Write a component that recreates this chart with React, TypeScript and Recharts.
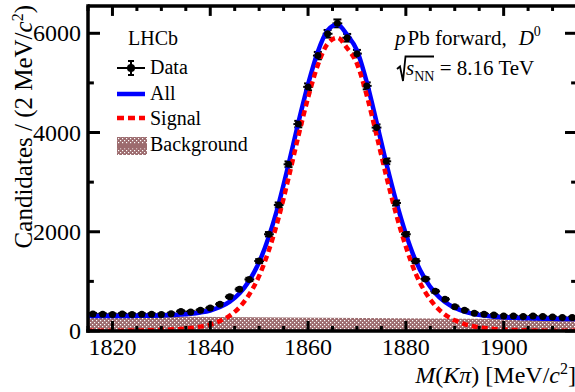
import React from "react";
import { ComposedChart, Line, Area, Scatter, XAxis, YAxis, ErrorBar, ReferenceLine } from "recharts";

// bin centres (2 MeV bins)
const massBins = [
    1816, 1818, 1820, 1822, 1824, 1826, 1828, 1830, 1832, 1834,
    1836, 1838, 1840, 1842, 1844, 1846, 1848, 1850, 1852, 1854,
    1856, 1858, 1860, 1862, 1864, 1866, 1868, 1870, 1872, 1874,
    1876, 1878, 1880, 1882, 1884, 1886, 1888, 1890, 1892, 1894,
    1896, 1898, 1900, 1902, 1904, 1906, 1908, 1910, 1912, 1914
];
const candidates = [
    345, 340, 335, 345, 335, 340, 340, 335, 350, 395,
    385, 420, 465, 540, 690, 840, 1040, 1410, 1950, 2540,
    3360, 4170, 4920, 5550, 5990, 6200, 5910, 5590, 4940, 4100,
    3420, 2580, 1950, 1410, 1050, 800, 640, 490, 420, 360,
    340, 320, 300, 300, 290, 300, 290, 280, 270, 270
];
const candidateErrors = [
    19, 18, 18, 19, 18, 18, 18, 18, 19, 20,
    20, 20, 22, 23, 26, 29, 32, 38, 44, 50,
    58, 65, 70, 74, 77, 79, 77, 75, 70, 64,
    58, 51, 44, 38, 32, 28, 25, 22, 20, 19,
    18, 18, 17, 17, 17, 17, 17, 17, 16, 16
];

// fit curves
const fitMass = [
    1815, 1816, 1818, 1820, 1822, 1824, 1826, 1828, 1830, 1832, 1834,
    1836, 1838, 1840, 1842, 1844, 1846, 1848, 1850, 1852, 1854,
    1856, 1858, 1860, 1862, 1864, 1866, 1868, 1870, 1872, 1874,
    1876, 1878, 1880, 1882, 1884, 1886, 1888, 1890, 1892, 1894,
    1896, 1898, 1900, 1902, 1904, 1906, 1908, 1910, 1912, 1914, 1915
];
const fitAll = [
    303, 303, 303, 302, 303, 304, 306, 308, 313, 320, 330,
    347, 374, 414, 483, 592, 761, 1019, 1388, 1907, 2565,
    3354, 4193, 4971, 5630, 6059, 6178, 5966, 5655, 5014, 4212,
    3381, 2620, 1958, 1417, 1036, 765, 583, 467, 391, 341,
    310, 289, 275, 265, 258, 253, 248, 245, 243, 240, 240
];
const fitSignal = [
    3, 3, 4, 5, 7, 9, 12, 16, 22, 30, 42,
    60, 88, 130, 200, 310, 480, 740, 1110, 1630, 2290,
    3080, 3920, 4700, 5360, 5790, 5910, 5700, 5390, 4750, 3950,
    3120, 2360, 1700, 1160, 780, 510, 330, 215, 140, 92,
    62, 42, 30, 21, 15, 11, 8, 6, 5, 4, 4
];
const bkgMass = [1815, 1915];
const fitBackground = [301, 235];

// ticks: majors get labels, the rest are minor marks
const xMajorTicks = [1820, 1840, 1860, 1880, 1900];
const xAllTicks = [
    1815, 1820, 1825, 1830, 1835, 1840, 1845, 1850, 1855, 1860, 1865,
    1870, 1875, 1880, 1885, 1890, 1895, 1900, 1905, 1910, 1915
];
const yMajorTicks = [0, 2000, 4000, 6000];
const yAllTicks = [0, 1000, 2000, 3000, 4000, 5000, 6000];

const BIN_WIDTH = 2;
const X_DOMAIN = [1815, 1915];
const Y_DOMAIN = [0, 6550];
// inward tick lengths in data units (~10/5 px vertical, ~12/6 px horizontal)
const X_TICK_LEN = { major: 200, minor: 100 };
const Y_TICK_LEN = { major: 2.45, minor: 1.2 };

const dataPoints = massBins.map((m, i) => ({
    mass: m,
    count: candidates[i],
    ex: BIN_WIDTH / 2,
    ey: candidateErrors[i]
}));
const fitCurve = fitMass.map((m, i) => ({ mass: m, all: fitAll[i], signal: fitSignal[i] }));
const bkgCurve = bkgMass.map((m, i) => ({ mass: m, bkg: fitBackground[i] }));

const FONT = "'Liberation Serif', 'Times New Roman', serif";
const frameLine = { stroke: "#000", strokeWidth: 3.5, strokeLinecap: "square" as const };
const TICK_W = 3;

const BottomTick = ({ x, y, payload }: any) => {
    const major = xMajorTicks.includes(payload.value);
    return (
        <g>
            <line x1={x} y1={y} x2={x} y2={y - (major ? 10 : 5)} stroke="#000" strokeWidth={TICK_W} />
            {major && (
                <text x={x} y={y + 24} textAnchor="middle" fontFamily={FONT} fontSize={24} fill="#000">
                    {payload.value}
                </text>
            )}
        </g>
    );
};
const LeftTick = ({ x, y, payload }: any) => {
    const major = yMajorTicks.includes(payload.value);
    if (!major) return <g />;
    return (
        <text x={x - 7} y={y + 8} textAnchor="end" fontFamily={FONT} fontSize={24} fill="#000">
            {payload.value}
        </text>
    );
};

export default function App() {
    return (
        <div
            style={{
                position: "absolute",
                left: 0,
                top: 0,
                width: 575,
                height: 392,
                overflow: "hidden",
                background: "#fff",
                fontFamily: FONT
            }}
        >
            <ComposedChart width={590} height={392} margin={{ top: 6, right: 13, bottom: 0, left: 0 }}>
                <defs>
                    <pattern id="bkgHatch" width={4} height={4} patternUnits="userSpaceOnUse">
                        <rect width={4} height={4} fill="#9c6b6e" />
                        <rect x={0} y={0} width={1.2} height={1.2} fill="#fff" />
                        <rect x={2} y={2} width={1.2} height={1.2} fill="#fff" />
                    </pattern>
                </defs>

                <Area
                    xAxisId="x"
                    yAxisId="y"
                    data={bkgCurve}
                    dataKey="bkg"
                    type="linear"
                    stroke="none"
                    fill="url(#bkgHatch)"
                    fillOpacity={1}
                    baseValue={0}
                    isAnimationActive={false}
                />
                <Scatter
                    xAxisId="x"
                    yAxisId="y"
                    data={dataPoints}
                    dataKey="count"
                    shape={(p: any) => <circle cx={p.cx} cy={p.cy} r={3.5} fill="#000" />}
                    isAnimationActive={false}
                >
                    <ErrorBar dataKey="ex" direction="x" width={0} stroke="#000" strokeWidth={2} isAnimationActive={false} />
                    <ErrorBar dataKey="ey" direction="y" width={4} stroke="#000" strokeWidth={2} isAnimationActive={false} />
                </Scatter>
                <Line
                    xAxisId="x"
                    yAxisId="y"
                    data={fitCurve}
                    dataKey="all"
                    type="monotone"
                    stroke="#0000ff"
                    strokeWidth={4.5}
                    dot={false}
                    activeDot={false}
                    isAnimationActive={false}
                />
                <Line
                    xAxisId="x"
                    yAxisId="y"
                    data={fitCurve}
                    dataKey="signal"
                    type="monotone"
                    stroke="#ff0000"
                    strokeWidth={4.5}
                    strokeDasharray="6 4"
                    dot={false}
                    activeDot={false}
                    isAnimationActive={false}
                />

                {/* frame: top and right edges */}
                <ReferenceLine xAxisId="x" yAxisId="y" y={Y_DOMAIN[1]} stroke="#000" strokeWidth={3.5} ifOverflow="visible" />
                <ReferenceLine xAxisId="x" yAxisId="y" x={X_DOMAIN[1]} stroke="#000" strokeWidth={3.5} ifOverflow="visible" />
                {/* inward ticks on top */}
                {xAllTicks.map((t) => {
                    const len = xMajorTicks.includes(t) ? X_TICK_LEN.major : X_TICK_LEN.minor;
                    return (
                        <ReferenceLine
                            key={"top" + t}
                            xAxisId="x"
                            yAxisId="y"
                            segment={[{ x: t, y: Y_DOMAIN[1] }, { x: t, y: Y_DOMAIN[1] - len }]}
                            stroke="#000"
                            strokeWidth={TICK_W}
                            ifOverflow="visible"
                        />
                    );
                })}
                {/* inward ticks on left and right */}
                {yAllTicks.map((v) => {
                    const len = yMajorTicks.includes(v) ? Y_TICK_LEN.major : Y_TICK_LEN.minor;
                    return (
                        <React.Fragment key={"y" + v}>
                            <ReferenceLine
                                xAxisId="x"
                                yAxisId="y"
                                segment={[{ x: X_DOMAIN[0], y: v }, { x: X_DOMAIN[0] + len, y: v }]}
                                stroke="#000"
                                strokeWidth={TICK_W}
                                ifOverflow="visible"
                            />
                            <ReferenceLine
                                xAxisId="x"
                                yAxisId="y"
                                segment={[{ x: X_DOMAIN[1], y: v }, { x: X_DOMAIN[1] - len, y: v }]}
                                stroke="#000"
                                strokeWidth={TICK_W}
                                ifOverflow="visible"
                            />
                        </React.Fragment>
                    );
                })}

                <XAxis
                    xAxisId="x"
                    dataKey="mass"
                    type="number"
                    domain={X_DOMAIN}
                    allowDataOverflow
                    ticks={xAllTicks}
                    interval={0}
                    height={61}
                    tickLine={false}
                    axisLine={frameLine}
                    tickSize={0}
                    tickMargin={0}
                    tick={<BottomTick />}
                />
                <YAxis
                    yAxisId="y"
                    type="number"
                    domain={Y_DOMAIN}
                    allowDataOverflow
                    ticks={yAllTicks}
                    interval={0}
                    width={88}
                    tickLine={false}
                    axisLine={frameLine}
                    tickSize={0}
                    tickMargin={0}
                    tick={<LeftTick />}
                />
            </ComposedChart>

            {/* titles, legend, annotations */}
            <svg
                width={575}
                height={392}
                style={{ position: "absolute", left: 0, top: 0, pointerEvents: "none" }}
                fontFamily={FONT}
            >
                <defs>
                    <pattern id="bkgHatchLeg" width={4} height={4} patternUnits="userSpaceOnUse">
                        <rect width={4} height={4} fill="#9c6b6e" />
                        <rect x={0} y={0} width={1.2} height={1.2} fill="#fff" />
                        <rect x={2} y={2} width={1.2} height={1.2} fill="#fff" />
                    </pattern>
                </defs>

                <text x={32} y={5} transform="rotate(-90 32 5)" textAnchor="end" fontSize={25} fill="#000">
                    Candidates / (2 MeV/<tspan fontStyle="italic">c</tspan>
                    <tspan dy={-9} fontSize={16}>2</tspan>
                    <tspan dy={9}>)</tspan>
                </text>

                <text x={576} y={383} textAnchor="end" fontSize={24} fill="#000">
                    <tspan fontStyle="italic">M</tspan>(<tspan fontStyle="italic">K</tspan>
                    <tspan fontStyle="italic">π</tspan>) [MeV/<tspan fontStyle="italic">c</tspan>
                    <tspan dy={-9} fontSize={16}>2</tspan>
                    <tspan dy={9}>]</tspan>
                </text>

                <text x={128} y={45} fontSize={20} fill="#000">LHCb</text>

                {/* Data */}
                <line x1={117} y1={68} x2={145} y2={68} stroke="#000" strokeWidth={2} />
                <line x1={131} y1={61} x2={131} y2={75} stroke="#000" strokeWidth={2} />
                <line x1={128} y1={61} x2={134} y2={61} stroke="#000" strokeWidth={2} />
                <line x1={128} y1={75} x2={134} y2={75} stroke="#000" strokeWidth={2} />
                <circle cx={131} cy={68} r={4} fill="#000" />
                <text x={150} y={73.5} fontSize={20} fill="#000">Data</text>

                {/* All */}
                <line x1={117} y1={94} x2={145} y2={94} stroke="#0000ff" strokeWidth={4.5} />
                <text x={150} y={100} fontSize={20} fill="#000">All</text>

                {/* Signal */}
                <line x1={117} y1={118} x2={145} y2={118} stroke="#ff0000" strokeWidth={4.5} strokeDasharray="7 4" />
                <text x={150} y={124.5} fontSize={20} fill="#000">Signal</text>

                {/* Background */}
                <rect x={117} y={137} width={30} height={18} fill="url(#bkgHatchLeg)" />
                <rect x={117} y={144} width={30} height={4.5} fill="#9c6b6e" />
                <text x={150} y={151} fontSize={20} fill="#000">Background</text>

                {/* annotation */}
                <text x={395} y={45} fontSize={21} fill="#000">
                    <tspan fontStyle="italic">p</tspan>
                    <tspan dx={2}>Pb forward,</tspan>
                    <tspan dx={12} fontStyle="italic">D</tspan>
                    <tspan dy={-9} fontSize={14}>0</tspan>
                </text>
                <path d="M397,69 L400,66.5 L403,81 L405.5,56.5 L434,56.5" fill="none" stroke="#000" strokeWidth={1.8} />
                <text x={406} y={75} fontSize={21} fill="#000">
                    <tspan fontStyle="italic">s</tspan>
                    <tspan dy={6} fontSize={14}>NN</tspan>
                    <tspan dy={-6}> = 8.16 TeV</tspan>
                </text>
            </svg>
        </div>
    );
}
